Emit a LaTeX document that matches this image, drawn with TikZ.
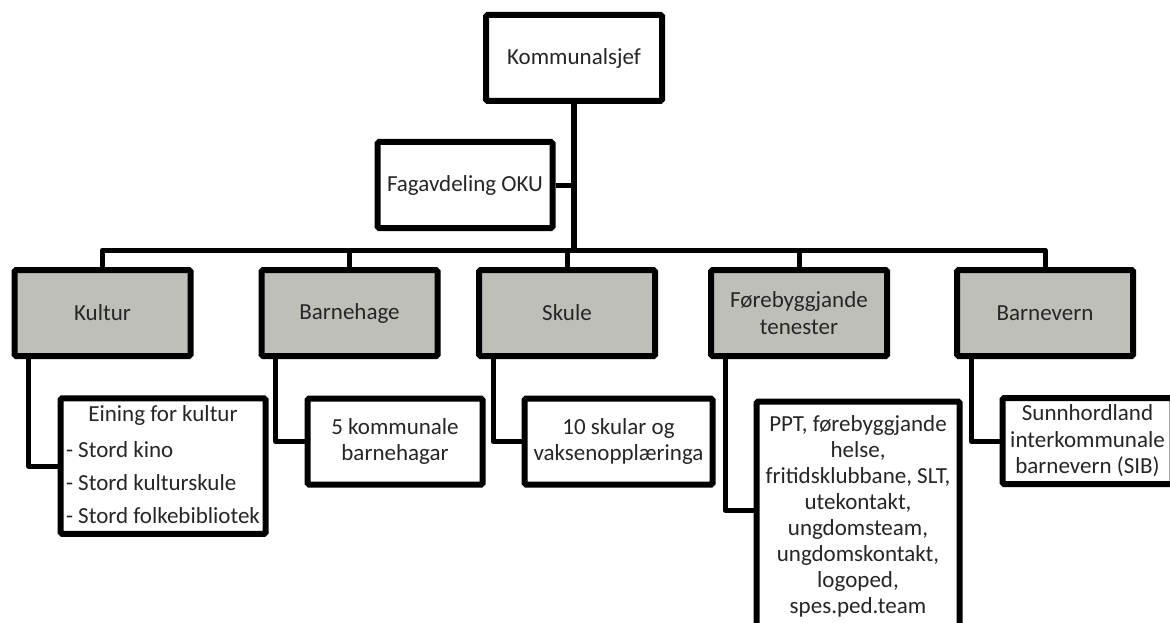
\documentclass[tikz,border=0pt]{standalone}
\usepackage{fontspec}
\setmainfont{Carlito}
\usetikzlibrary{positioning}
\definecolor{unitgrey}{RGB}{191,191,186}

\begin{document}
\begin{tikzpicture}[x=1pt, y=-1pt,
	every node/.style={font=\fontsize{23}{26.5}\selectfont, text=black!85, inner sep=0pt},
	box/.style={draw, line width=6pt, rounded corners=1.5pt, fill=white, minimum width=176pt, minimum height=86pt, align=center},
	unit/.style={box, fill=unitgrey},
	link/.style={line width=5pt, line join=round}]
				
				\useasboundingbox (0,0) rectangle (1170,623);
				\clip (0,0) rectangle (1170,623);
				
				\coordinate (B) at (0,250);
				
				\node[box] (KS) at (574,58) {Kommunalsjef};
				\node[box, minimum width=175pt] (FA) at (465,185) {Fagavdeling OKU};
				
				\draw[link, line width=6pt] (KS) -- (KS |- B);
				\draw[link] (FA) -- (FA -| KS);
				
				\node[unit] (H1) at (102.5,313) {Kultur};
				\node[unit] (H2) at (349.5,313) {Barnehage};
				\node[unit] (H3) at (567,313) {Skule};
				\node[unit] (H4) at (799,313) {Førebyggjande\\tenester};
				\node[unit] (H5) at (1045,313) {Barnevern};
				
				\draw[link] (H1) -- (H1 |- B) -- (H5 |- B) -- (H5);
				\foreach \h in {H2,H3,H4}
					\draw[link] (\h) -- (\h |- B);
				
				\node[box, minimum width=205pt, minimum height=135pt] (E1) at (163,466) {\renewcommand{\arraystretch}{1.25}\begin{tabular}{@{}l@{}}\multicolumn{1}{@{}c@{}}{Eining for kultur}\\[3pt]- Stord kino\\- Stord kulturskule\\- Stord folkebibliotek\end{tabular}};
				\node[box, minimum width=175pt] (E2) at (395,441.5) {5 kommunale\\barnehagar};
				\node[box, minimum width=188pt] (E3) at (618.5,441.5) {10 skular og\\vaksenopplæringa};
				\node[box, minimum width=203pt, minimum height=0pt, inner ysep=14pt, anchor=north, font=\fontsize{23}{26}\selectfont] (E4) at (858,398.5) {PPT, førebyggjande\\helse,\\fritidsklubbane, SLT,\\utekontakt,\\ungdomsteam,\\ungdomskontakt,\\logoped,\\spes.ped.team\\ \mbox{}};
				\node[box, minimum width=170pt] (E5) at (1087.5,441) {Sunnhordland\\interkommunale\\barnevern (SIB)};
				
				\draw[link] ([xshift=17pt]H1.south west) |- (E1);
				\draw[link] ([xshift=17pt]H2.south west) |- (E2);
				\draw[link] ([xshift=17pt]H3.south west) |- (E3);
				\draw[link] ([xshift=17pt]H4.south west) |- ([yshift=-111.5pt]E4.north west);
				\draw[link] ([xshift=17pt]H5.south west) |- (E5);
				
			\end{tikzpicture}
\end{document}
